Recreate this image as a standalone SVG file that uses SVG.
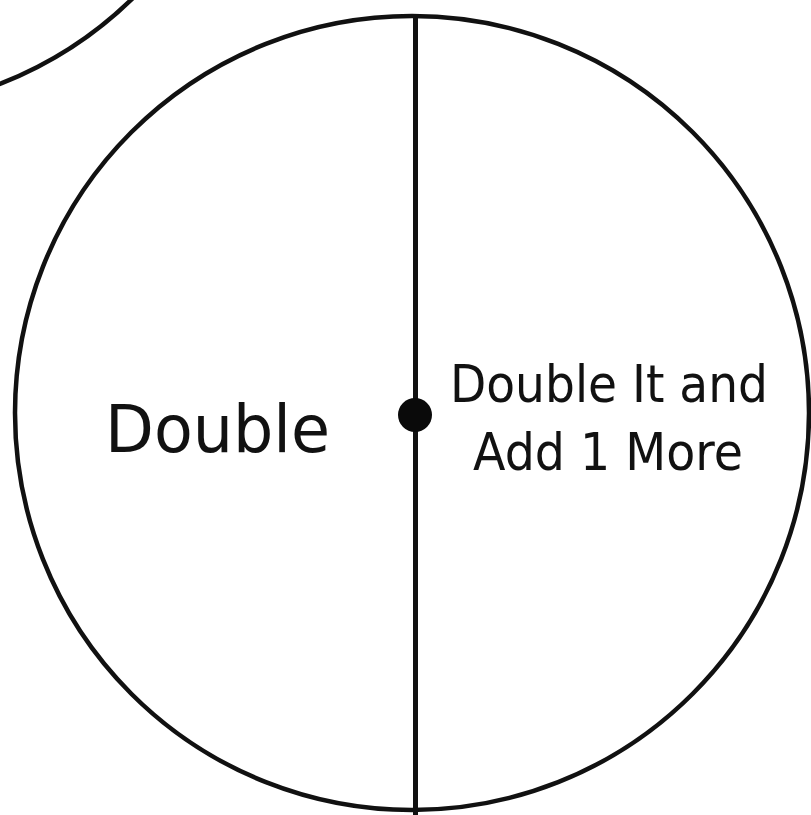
<svg xmlns="http://www.w3.org/2000/svg" width="811" height="815" viewBox="0 0 811 815">
<style>
.ring{fill:none;stroke:#111;stroke-width:4.5}
.lbl{font-family:"DejaVu Sans","Noto Sans",sans-serif;fill:#111}
</style>
<rect width="811" height="815" fill="#fff"/>
<g id="neighbor-spinner">
<circle class="ring" cx="-144" cy="-285" r="396"/>
</g>
<g id="spinner">
<circle class="ring" cx="412" cy="413" r="397"/>
</g>
<g id="connectors">
<line x1="415.5" y1="14" x2="415.5" y2="815" stroke="#111" stroke-width="5"/>
</g>
<g id="pivot">
<circle cx="415" cy="415" r="17" fill="#0a0a0a"/>
</g>
<g id="section-double">
<text class="lbl" x="105" y="452" font-size="66" textLength="225" lengthAdjust="spacingAndGlyphs">Double</text>
</g>
<g id="section-double-add">
<text class="lbl" x="450" y="402" font-size="52" textLength="318" lengthAdjust="spacingAndGlyphs">Double It and</text>
<text class="lbl" x="473" y="470" font-size="52" textLength="270" lengthAdjust="spacingAndGlyphs">Add 1 More</text>
</g>
</svg>
